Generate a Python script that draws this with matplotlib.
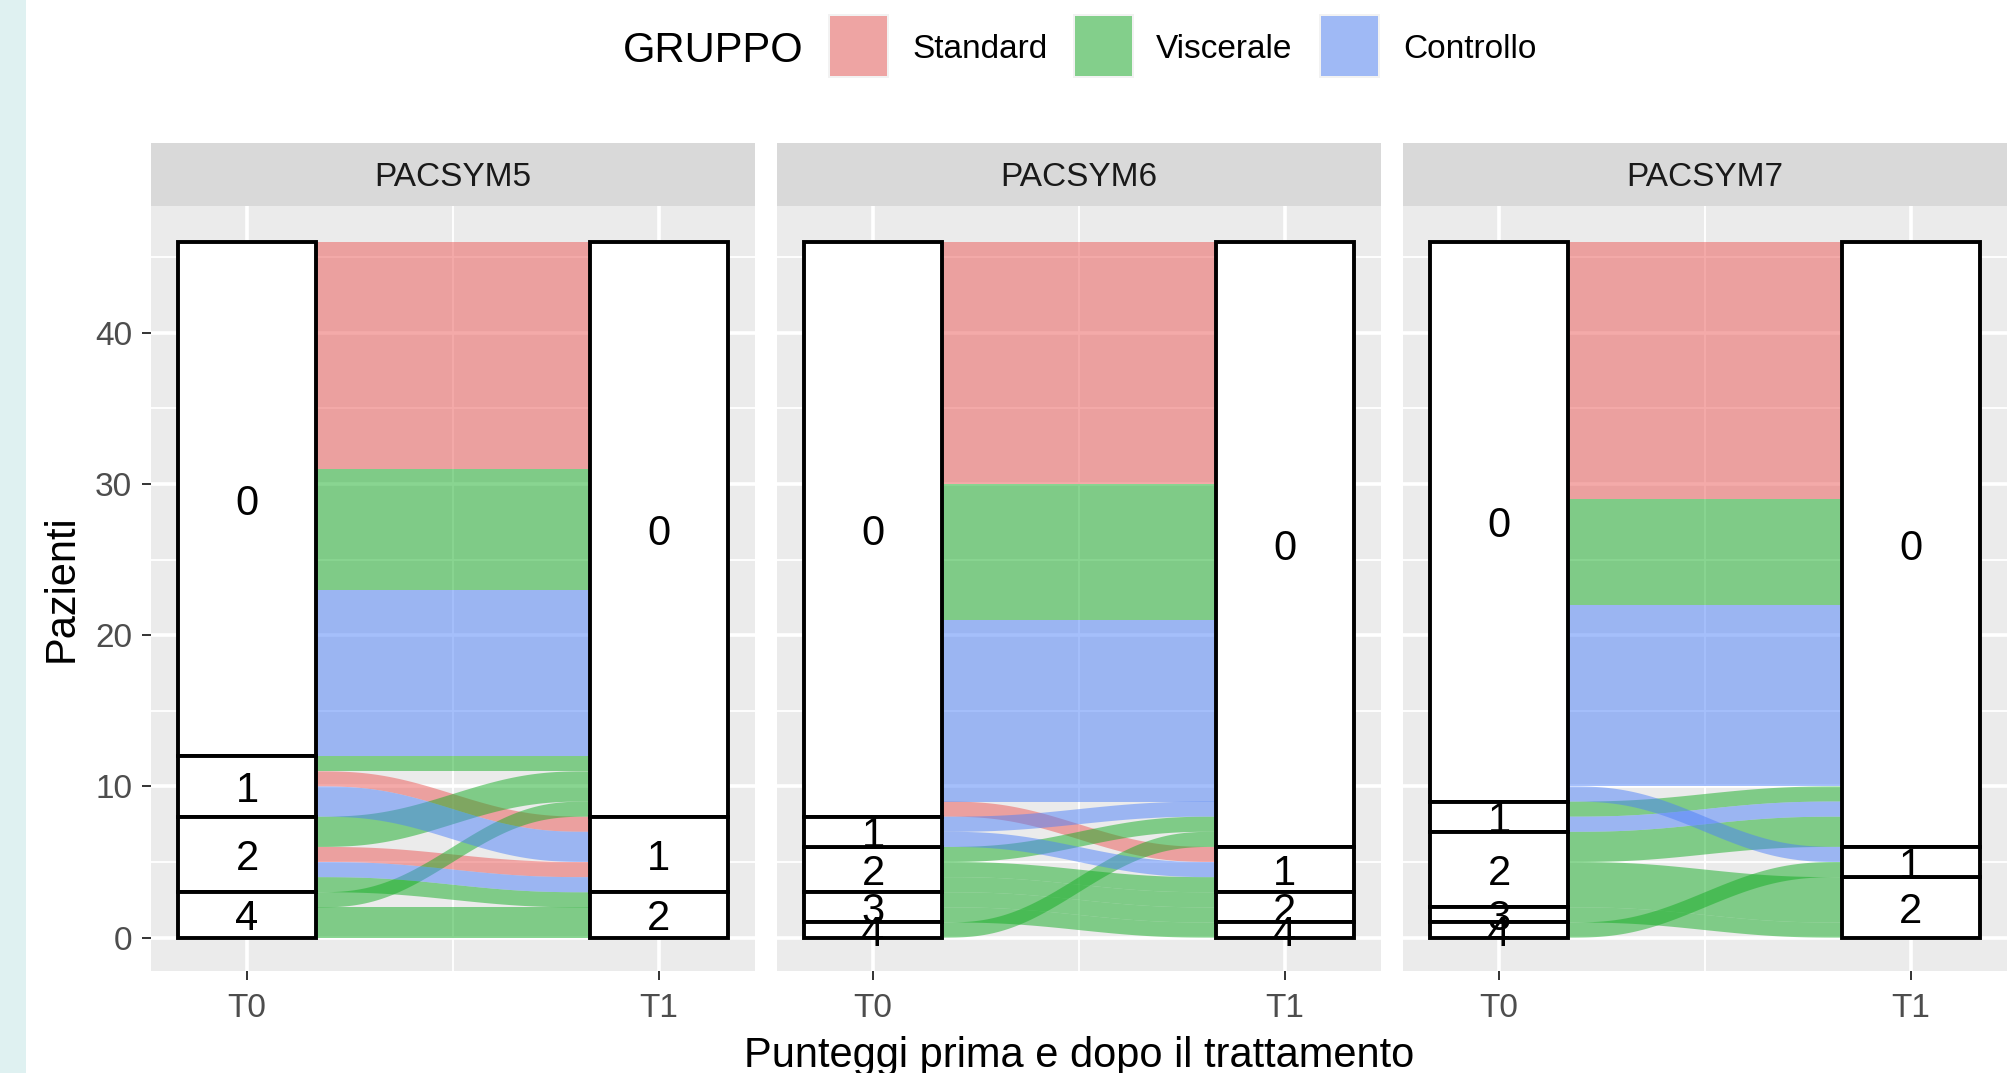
import matplotlib
matplotlib.use("Agg")
import matplotlib.pyplot as plt
from matplotlib.patches import Rectangle, Polygon
import numpy as np

plt.rcParams['font.family'] = ['Liberation Sans', 'DejaVu Sans']

# ---------------- data ----------------
panels = ["PACSYM5", "PACSYM6", "PACSYM7"]
groups = ["Standard", "Viscerale", "Controllo"]
group_colors = ["#EB5755", "#15AD25", "#4D81F9"]
strata_levels = ["0", "1", "2", "3", "4"]      # top to bottom
axis_labels = ["T0", "T1"]
y_ticks = [0, 10, 20, 30, 40]

# PACSYM5 flows: group, stratum at T0, stratum at T1, patients
p5_group = ["Standard", "Standard", "Standard",
            "Viscerale", "Viscerale", "Viscerale", "Viscerale", "Viscerale", "Viscerale",
            "Controllo", "Controllo", "Controllo"]
p5_t0 = ["0", "1", "2", "0", "1", "2", "2", "4", "4", "0", "1", "2"]
p5_t1 = ["0", "1", "1", "0", "0", "0", "2", "0", "2", "0", "1", "1"]
p5_n = [15, 1, 1, 8, 1, 2, 1, 1, 2, 11, 2, 1]

# PACSYM6 flows
p6_group = ["Standard", "Standard",
            "Viscerale", "Viscerale", "Viscerale", "Viscerale", "Viscerale", "Viscerale", "Viscerale",
            "Controllo", "Controllo", "Controllo"]
p6_t0 = ["0", "0", "0", "2", "2", "2", "3", "3", "4", "0", "1", "1"]
p6_t1 = ["0", "1", "0", "0", "1", "2", "2", "4", "0", "0", "0", "1"]
p6_n = [16, 1, 9, 1, 1, 1, 1, 1, 1, 12, 1, 1]

# PACSYM7 flows
p7_group = ["Standard",
            "Viscerale", "Viscerale", "Viscerale", "Viscerale", "Viscerale", "Viscerale",
            "Controllo", "Controllo", "Controllo"]
p7_t0 = ["0", "0", "1", "2", "2", "3", "4", "0", "0", "1"]
p7_t1 = ["0", "0", "0", "0", "2", "2", "1", "0", "1", "0"]
p7_n = [17, 7, 1, 2, 3, 1, 1, 12, 1, 1]

panel_data = [(p5_group, p5_t0, p5_t1, p5_n),
              (p6_group, p6_t0, p6_t1, p6_n),
              (p7_group, p7_t0, p7_t1, p7_n)]

# ---------------- helpers ----------------
rank = {s: i for i, s in enumerate(strata_levels)}
gidx = {g: i for i, g in enumerate(groups)}
STRAT_W = 1 / 3


def lode_positions(grp, t0, t1, n, axis):
    own = t0 if axis == 0 else t1
    other = t1 if axis == 0 else t0
    order = sorted(range(len(n)), key=lambda i: (rank[own[i]], rank[other[i]], gidx[grp[i]]))
    top = sum(n)
    pos = {}
    for i in order:
        pos[i] = (top - n[i], top)
        top -= n[i]
    return pos


def strata_extents(own, pos):
    ext = {}
    for i, s in enumerate(own):
        b, t = pos[i]
        if s in ext:
            ext[s] = (min(ext[s][0], b), max(ext[s][1], t))
        else:
            ext[s] = (b, t)
    return ext


def smooth(t):
    return t * t * t * (t * (t * 6 - 15) + 10)


# ---------------- figure ----------------
W_PX, H_PX = 2007, 1073
fig = plt.figure(figsize=(W_PX / 100, H_PX / 100), dpi=100)
fig.patch.set_facecolor("white")
fig.patches.append(Rectangle((0, 0), 26 / W_PX, 1, transform=fig.transFigure,
                             facecolor="#DFF1F1", edgecolor="none", zorder=0))

panel_left_px = [151, 777, 1403]
panel_w_px = 604
panel_top_px, panel_bot_px = 206, 971
strip_top_px = 143

for k, (grp, t0, t1, n) in enumerate(panel_data):
    L = panel_left_px[k] / W_PX
    B = 1 - panel_bot_px / H_PX
    Wd = panel_w_px / W_PX
    Ht = (panel_bot_px - panel_top_px) / H_PX
    ax = fig.add_axes([L, B, Wd, Ht])
    ax.set_facecolor("#EBEBEB")
    total = sum(n)
    xlo, xhi = 1 - STRAT_W / 2, 2 + STRAT_W / 2
    xr = xhi - xlo
    ax.set_xlim(xlo - 0.05 * xr, xhi + 0.05 * xr)
    ax.set_ylim(-0.048 * total, total * 1.052)
    ax.set_yticks(y_ticks)
    ax.set_yticks([5, 15, 25, 35, 45], minor=True)
    ax.set_xticks([1, 2])
    ax.set_xticks([1.5], minor=True)
    ax.set_xticklabels(axis_labels)
    ax.grid(which="major", color="white", lw=2.6)
    ax.grid(which="minor", color="white", lw=1.3)
    ax.set_axisbelow(True)
    for sp in ax.spines.values():
        sp.set_visible(False)
    ax.tick_params(which="minor", length=0)
    ax.tick_params(which="major", length=6.5, width=1.4, color="#333333",
                   labelsize=24, labelcolor="#4D4D4D", pad=7)
    ax.tick_params(axis="x", which="major", pad=9)
    if k > 0:
        ax.tick_params(axis="y", which="major", length=0, labelleft=False)

    pos0 = lode_positions(grp, t0, t1, n, 0)
    pos1 = lode_positions(grp, t0, t1, n, 1)

    # flows
    xa, xb = 1 + STRAT_W / 2, 2 - STRAT_W / 2
    tt = np.linspace(0, 1, 120)
    ss = smooth(tt)
    xs = xa + (xb - xa) * tt
    for i in range(len(n)):
        b0, u0 = pos0[i]
        b1, u1 = pos1[i]
        upper = u0 + (u1 - u0) * ss
        lower = b0 + (b1 - b0) * ss
        verts = np.vstack([np.column_stack([xs, upper]),
                           np.column_stack([xs[::-1], lower[::-1]])])
        ax.add_patch(Polygon(verts, closed=True, facecolor=group_colors[gidx[grp[i]]],
                             alpha=0.5, edgecolor="none", zorder=2))

    # strata
    for axis_i, (own, pos) in enumerate([(t0, pos0), (t1, pos1)]):
        xc = axis_i + 1
        for s, (b, t) in strata_extents(own, pos).items():
            ax.add_patch(Rectangle((xc - STRAT_W / 2, b), STRAT_W, t - b,
                                   facecolor="white", edgecolor="black", lw=2.8, zorder=3))
            ax.text(xc, (b + t) / 2, s, ha="center", va="center_baseline",
                    fontsize=30, color="black", zorder=4)

    # strip
    sax = fig.add_axes([L, 1 - panel_top_px / H_PX, Wd, (panel_top_px - strip_top_px) / H_PX])
    sax.set_facecolor("#D9D9D9")
    sax.set_xticks([])
    sax.set_yticks([])
    for sp in sax.spines.values():
        sp.set_visible(False)
    sax.text(0.5, 0.5, panels[k], ha="center", va="center_baseline", fontsize=24,
             color="#1A1A1A", transform=sax.transAxes)

# axis titles
fig.text(62 / W_PX, 1 - 588.5 / H_PX, "Pazienti", rotation=90, fontsize=30,
         ha="center", va="center")
fig.text(1079 / W_PX, 1 - 1056 / H_PX, "Punteggi prima e dopo il trattamento",
         fontsize=30, ha="center", va="center")

# legend
leg_y = 1 - 46 / H_PX
fig.text(623 / W_PX, leg_y, "GRUPPO", fontsize=30, ha="left", va="center_baseline")
key_left_px = [828, 1073, 1319]
text_left_px = [912, 1156, 1403]
for gi, g in enumerate(groups):
    kx = key_left_px[gi]
    fig.patches.append(Rectangle((kx / W_PX, 1 - 78 / H_PX), 61 / W_PX, 64 / H_PX,
                                 transform=fig.transFigure, facecolor="#F2F2F2",
                                 edgecolor="none"))
    fig.patches.append(Rectangle(((kx + 2) / W_PX, 1 - 76 / H_PX), 57 / W_PX, 60 / H_PX,
                                 transform=fig.transFigure, facecolor=group_colors[gi],
                                 alpha=0.5, edgecolor="none"))
    fig.text(text_left_px[gi] / W_PX, leg_y, g, fontsize=24, ha="left",
             va="center_baseline")

fig.savefig("out.png", dpi=100)
